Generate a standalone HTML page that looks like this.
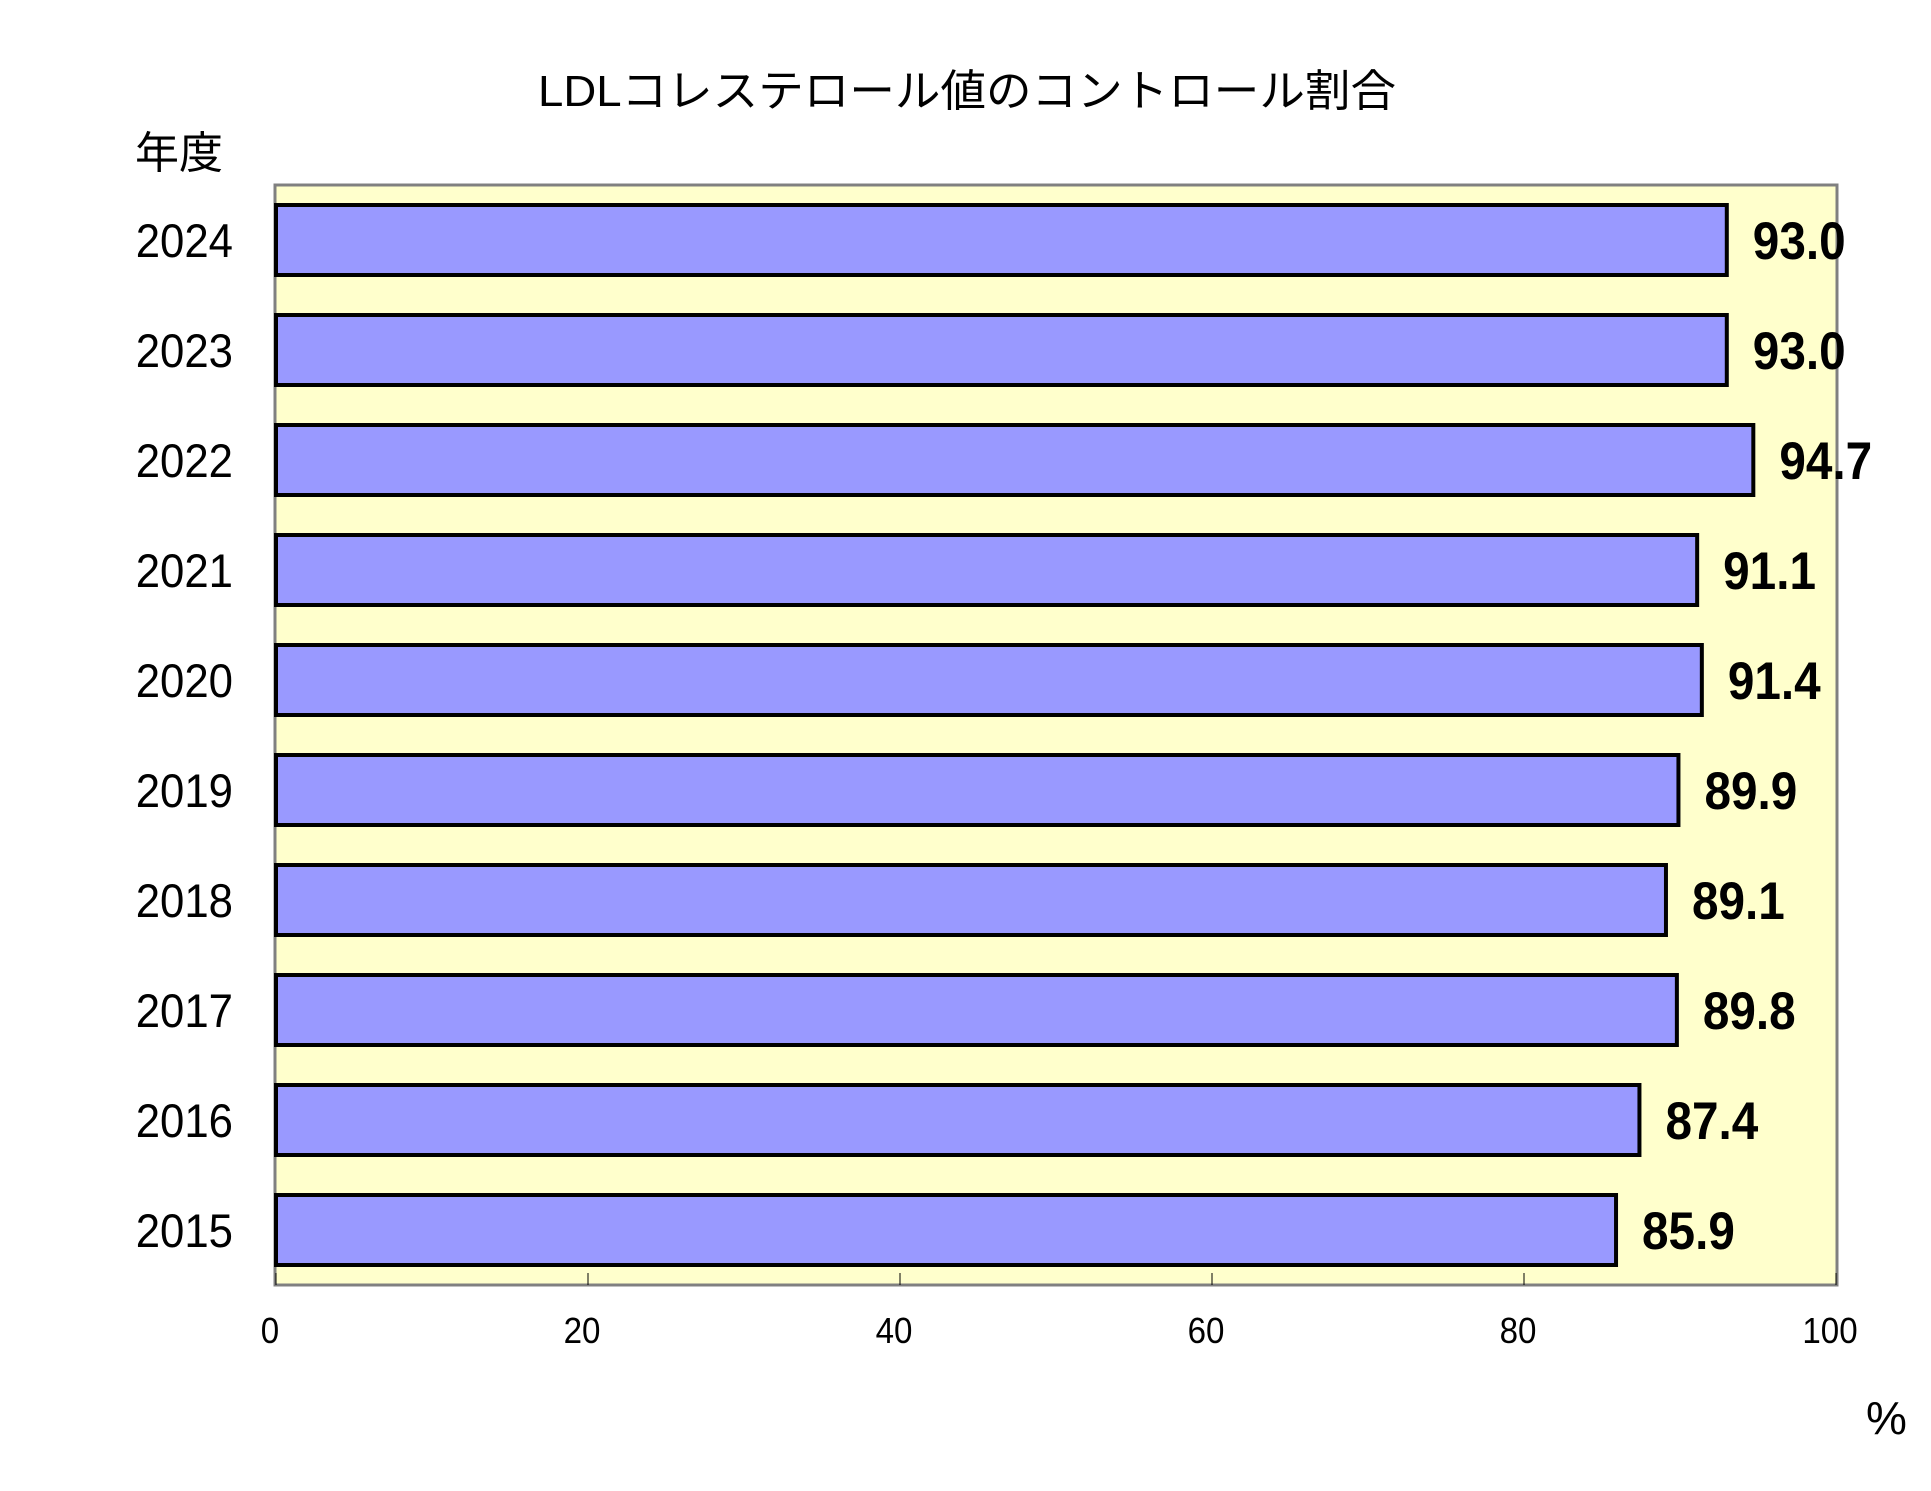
<!DOCTYPE html>
<html><head><meta charset="utf-8"><style>
body{margin:0;background:#fff;}
svg{display:block;}
</style></head><body>
<svg id="chart" width="1931" height="1491" viewBox="0 0 1931 1491" xmlns="http://www.w3.org/2000/svg">
<text x="538" y="106" textLength="858" lengthAdjust="spacingAndGlyphs" font-family="'Liberation Sans','Noto Sans CJK JP',sans-serif" font-size="44" fill="#000">LDLコレステロール値のコントロール割合</text>
<text x="135" y="168" font-family="'Liberation Sans','Noto Sans CJK JP',sans-serif" font-size="44" fill="#000">年度</text>
<rect x="275" y="185" width="1562" height="1100" fill="#ffffcc" stroke="#808080" stroke-width="3"/>
<g id="bars"></g>
<g id="xaxis"></g>
<text x="1866" y="1434" font-family="'Liberation Sans',sans-serif" font-size="46" fill="#000">%</text>
</svg>
<script>
const years=["2024","2023","2022","2021","2020","2019","2018","2017","2016","2015"];
const values=[93.0,93.0,94.7,91.1,91.4,89.9,89.1,89.8,87.4,85.9];
const valueLabels=["93.0","93.0","94.7","91.1","91.4","89.9","89.1","89.8","87.4","85.9"];
const ticks=[0,20,40,60,80,100];
const NS="http://www.w3.org/2000/svg";
const x0=276,xs=15.6;
function xScale(v){return x0+v*xs;}
function yBand(i){return 205+i*110;}
const bh=70;
const bars=document.getElementById('bars');
const xa=document.getElementById('xaxis');
const fam="'Liberation Sans',sans-serif";
function condense(t,f){const w=t.getComputedTextLength();t.setAttribute('textLength',w*f);t.setAttribute('lengthAdjust','spacingAndGlyphs');}
years.forEach((y,i)=>{
  const top=yBand(i);
  const r=document.createElementNS(NS,'rect');
  
  
  r.setAttribute('x',xScale(0));r.setAttribute('y',top);
  r.setAttribute('width',xScale(values[i])-xScale(0));r.setAttribute('height',bh);
  r.setAttribute('fill','#9999ff');r.setAttribute('stroke','#000');r.setAttribute('stroke-width','4');
  bars.appendChild(r);
  const t=document.createElementNS(NS,'text');
  
  
  t.setAttribute('x',233);t.setAttribute('y',top+bh/2+17);
  t.setAttribute('text-anchor','end');t.setAttribute('font-family',fam);t.setAttribute('font-size','47');
  t.textContent=y;bars.appendChild(t);condense(t,0.93);
  const v=document.createElementNS(NS,'text');
  
  
  v.setAttribute('x',xScale(values[i])+26);v.setAttribute('y',top+bh/2+19);
  v.setAttribute('font-family',fam);v.setAttribute('font-weight','bold');v.setAttribute('font-size','53');
  v.textContent=valueLabels[i];bars.appendChild(v);condense(v,0.9);
});
ticks.forEach(tk=>{
  const x=xScale(tk);
  const l=document.createElementNS(NS,'line');
  
  
  l.setAttribute('x1',x);l.setAttribute('x2',x);l.setAttribute('y1',1273);l.setAttribute('y2',1285);
  l.setAttribute('stroke','#000');l.setAttribute('stroke-width','1');
  xa.appendChild(l);
  const t=document.createElementNS(NS,'text');
  
  
  t.setAttribute('x',x-6);t.setAttribute('y',1343);t.setAttribute('text-anchor','middle');
  t.setAttribute('font-family',fam);t.setAttribute('font-size','36');
  t.textContent=tk;xa.appendChild(t);condense(t,0.92);
});
</script>
</body></html>
